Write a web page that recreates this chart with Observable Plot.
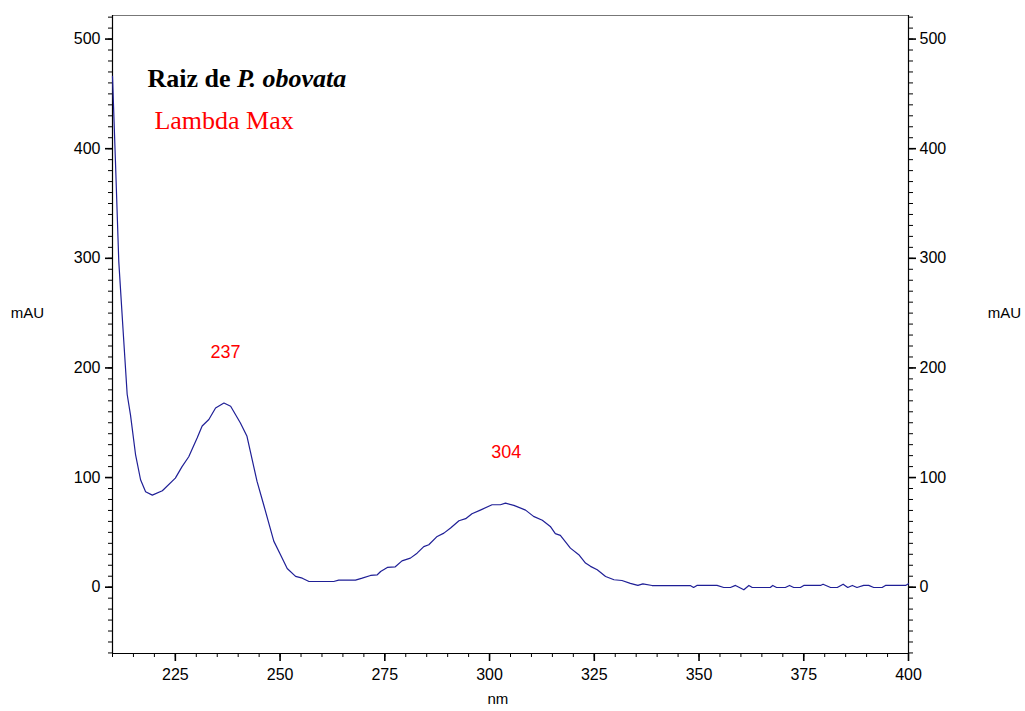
<!DOCTYPE html>
<html>
<head>
<meta charset="utf-8">
<script src="https://cdn.jsdelivr.net/npm/d3@7"></script>
<script src="https://cdn.jsdelivr.net/npm/@observablehq/plot@0.6"></script>
<style>
  html, body { margin: 0; padding: 0; background: #fff; }
  #chart svg { display: block; }
</style>
</head>
<body>
<div id="chart"></div>
<script>
// Spectrum (wavelength in nm, absorbance in mAU)
const wavelength = [210, 210.7, 211.5, 212.5, 213.5, 214.3, 215.5, 216.7, 217.9, 219.5, 221.9, 225.0, 226.6, 228.2, 230.2, 231.4, 233.0, 234.6, 236.6, 238.2, 240.5, 242.1, 244.5, 246.1, 248.5, 250.1, 251.7, 253.7, 255.3, 256.9, 262.8, 264.0, 268.0, 269.6, 271.6, 273.2, 274.0, 275.6, 277.5, 279.1, 281.1, 282.7, 284.3, 285.5, 287.5, 289.1, 290.7, 292.7, 294.3, 295.8, 297.8, 300.6, 302.6, 303.8, 305.8, 308.6, 310.5, 312.6, 314.5, 315.7, 316.9, 319.3, 321.3, 322.9, 324.1, 325.7, 327.7, 329.7, 331.6, 333.6, 335.4, 336.6, 338.8, 347.9, 348.7, 349.5, 354.3, 355.9, 357.5, 358.7, 360.7, 361.9, 362.7, 367.0, 367.6, 368.5, 370.6, 371.6, 372.6, 374.2, 375.0, 379.0, 379.6, 381.4, 383.0, 384.4, 385.5, 386.6, 387.7, 389.3, 390.5, 391.7, 393.7, 394.5, 399.3, 400];
const absorbance = [466, 389, 297, 236, 176, 157, 121, 98, 87, 84, 88, 99.5, 110, 119, 136, 147, 153, 163.5, 168, 165, 150, 137.6, 96.5, 75, 42, 29.6, 17, 9.8, 8.2, 5.2, 5.2, 6.4, 6.4, 8.2, 10.7, 11.3, 14.3, 18, 18.6, 24, 26.5, 31, 37, 38.7, 46.3, 49.3, 54, 60.6, 62.5, 67, 70.3, 75.2, 75.2, 76.7, 74.6, 70.3, 64.6, 61, 55.4, 48.8, 47.2, 35.6, 29.6, 22, 19, 15.9, 9.8, 6.8, 6.1, 3.5, 1.6, 3, 1.5, 1.5, -0.3, 1.6, 1.6, -0.3, -0.3, 1.6, -2.4, 1.6, -0.3, -0.3, 1.6, -0.3, -0.3, 1.6, -0.3, -0.3, 1.6, 1.6, 2.7, -0.3, -0.3, 2.7, -0.3, 1.6, -0.3, 1.6, 1.6, -0.3, -0.3, 1.6, 1.6, 3.1];

// Peak annotations
const peakLabels = ["237", "304"];
const peakX = [237, 304];
const peakY = [214, 123];

// Axes
const xDomain = [210, 400];
const yDomain = [-60.5, 521.5];
const xMajorTicks = [225, 250, 275, 300, 325, 350, 375, 400];
const xMinorTicks = d3.range(210, 401, 5);
const yMajorTicks = [0, 100, 200, 300, 400, 500];
const yMinorTicks = d3.range(-60, 521, 10);

const titleBold = "Raiz de ";
const titleItalic = "P. obovata";
const subtitle = "Lambda Max";
const xLabel = "nm";
const yLabel = "mAU";

const spectrum = wavelength.map((w, i) => ({nm: w, mAU: absorbance[i]}));
const peaks = peakLabels.map((t, i) => ({t, x: peakX[i], y: peakY[i]}));

const sans = "'Liberation Sans', Arial, sans-serif";
const serif = "'Liberation Serif', 'Times New Roman', serif";

const chart = Plot.plot({
  width: 1025,
  height: 711,
  marginLeft: 112,
  marginRight: 117,
  marginTop: 15,
  marginBottom: 58,
  style: {fontFamily: sans, fontSize: "16px", color: "#000", background: "#fff"},
  x: {domain: xDomain},
  y: {domain: yDomain},
  marks: [
    // frame lines
    Plot.ruleY([yDomain[1]], {stroke: "#777", strokeWidth: 1.2}),
    Plot.ruleY([yDomain[0]], {stroke: "#000", strokeWidth: 1.2}),
    Plot.ruleX([xDomain[0]], {stroke: "#000", strokeWidth: 1.2}),
    Plot.ruleX([xDomain[1]], {stroke: "#000", strokeWidth: 1.2}),
    // minor ticks
    Plot.axisX({ticks: xMinorTicks, tickSize: 4, text: null, label: null, stroke: "#000"}),
    Plot.axisY({ticks: yMinorTicks, tickSize: 4, text: null, label: null, anchor: "left", stroke: "#000"}),
    Plot.axisY({ticks: yMinorTicks, tickSize: 4, text: null, label: null, anchor: "right", stroke: "#000"}),
    // major ticks with labels
    Plot.axisX({ticks: xMajorTicks, tickSize: 8, tickPadding: 7, label: null, strokeWidth: 1.6, stroke: "#000", fill: "#000", fontSize: 16}),
    Plot.axisY({ticks: yMajorTicks, tickSize: 7, tickPadding: 5, label: null, anchor: "left", strokeWidth: 1.6, stroke: "#000", fill: "#000", fontSize: 16}),
    Plot.axisY({ticks: yMajorTicks, tickSize: 7, tickPadding: 4, label: null, anchor: "right", strokeWidth: 1.6, stroke: "#000", fill: "#000", fontSize: 16}),
    // axis titles
    Plot.text([yLabel], {frameAnchor: "left", y: () => 250, dx: -85, fill: "#000", fontSize: 15, textAnchor: "middle"}),
    Plot.text([yLabel], {frameAnchor: "right", y: () => 250, dx: 96, fill: "#000", fontSize: 15, textAnchor: "middle"}),
    Plot.text([xLabel], {frameAnchor: "bottom", x: () => 302, dy: 50, fill: "#000", fontSize: 15, textAnchor: "middle"}),
    // spectrum line
    Plot.line(spectrum, {x: "nm", y: "mAU", stroke: "#1f1f96", strokeWidth: 1.2}),
    // peak labels
    Plot.text(peaks, {x: "x", y: "y", text: "t", fill: "#ff0000", fontSize: 18, fontFamily: sans}),
    // title
    Plot.text([titleBold], {x: () => 218.35, y: () => 464, textAnchor: "start", fontFamily: serif, fontSize: 26, fontWeight: "bold", fill: "#000"}),
    Plot.text([titleItalic], {x: () => 218.35, y: () => 464, dx: 89.5, textAnchor: "start", fontFamily: serif, fontSize: 26, fontWeight: "bold", fontStyle: "italic", fill: "#000"}),
    Plot.text([subtitle], {x: () => 220, y: () => 426, textAnchor: "start", fontFamily: serif, fontSize: 26, fill: "#ff0000"})
  ]
});
document.getElementById("chart").appendChild(chart);
</script>
</body>
</html>
